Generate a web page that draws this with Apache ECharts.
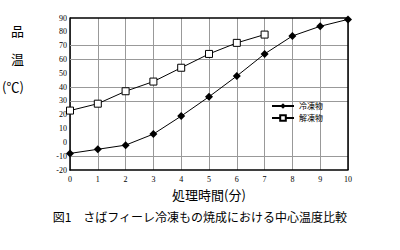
<!DOCTYPE html>
<html>
<head>
<meta charset="utf-8">
<script src="https://cdn.jsdelivr.net/npm/echarts@6/dist/echarts.min.js"></script>
<style>
html, body { margin: 0; padding: 0; background: #fff; }
#chart { width: 400px; height: 250px; }
</style>
</head>
<body>
<div id="chart"></div>
<script>
// 処理時間(分)
var minutes = ['0', '1', '2', '3', '4', '5', '6', '7', '8', '9', '10'];
// 冷凍物
var frozen = [-8, -5, -2, 6, 19, 33, 48, 64, 77, 84, 89];
// 解凍物
var thawed = [23, 28, 37, 44, 54, 64, 72, 78];
// 横の点線（原図で見えているもの）
var gridLinesY = [70, 60, 40, 30, -10];
var seriesNames = ['冷凍物', '解凍物'];

var chart = echarts.init(document.getElementById('chart'), null, { renderer: 'svg' });
var tickFont = { color: '#000', fontFamily: 'Liberation Serif', fontSize: 8 };
var jpFont = 'Noto Sans CJK JP';
// 点線の代わりに薄いグレーの実線（破線が描かれない環境のため）
var dotLine = { color: '#999', type: 'solid', width: 1 };

var option = {
    backgroundColor: '#fff',
    animation: false,
    grid: { left: 70, right: 52, top: 18, bottom: 80, show: false },
    legend: {
        data: seriesNames,
        orient: 'vertical',
        left: 266,
        top: 97,
        itemWidth: 22,
        itemHeight: 7,
        itemGap: 4,
        textStyle: { color: '#000', fontFamily: jpFont, fontSize: 8 }
    },
    xAxis: {
        type: 'category',
        data: minutes,
        boundaryGap: false,
        name: '処理時間(分)',
        nameLocation: 'middle',
        nameGap: 13,
        nameTextStyle: { color: '#000', fontFamily: jpFont, fontSize: 13 },
        axisLine: { onZero: false, lineStyle: { color: '#000', width: 1.5 } },
        axisTick: { show: false },
        axisLabel: Object.assign({ margin: 5 }, tickFont),
        splitLine: { show: true, interval: 0, lineStyle: dotLine }
    },
    yAxis: {
        type: 'value',
        min: -20,
        max: 90,
        interval: 10,
        axisLine: { show: true, lineStyle: { color: '#000', width: 1.5 } },
        axisTick: { show: false },
        axisLabel: Object.assign({ margin: 3 }, tickFont),
        splitLine: { show: false }
    },
    graphic: [
        // 枠の上と右
        { type: 'polyline', shape: { points: [[70, 18], [348, 18], [348, 170]] }, style: { fill: null, stroke: '#000', lineWidth: 1.5 }, z: 10 },
        { type: 'text', left: 11, top: 24, style: { text: '品', fill: '#000', font: '13px "Noto Sans CJK JP"' } },
        { type: 'text', left: 11, top: 52, style: { text: '温', fill: '#000', font: '13px "Noto Sans CJK JP"' } },
        { type: 'text', left: 2, top: 80, style: { text: '(℃)', fill: '#000', font: '13px "Noto Sans CJK JP"' } },
        { type: 'text', left: 'center', top: 210, style: { text: '図1　さばフィーレ冷凍もの焼成における中心温度比較', fill: '#000', font: '12px "Noto Sans CJK JP"' } }
    ],
    series: [
        {
            name: seriesNames[0],
            type: 'line',
            data: frozen,
            symbol: 'diamond',
            symbolSize: 8,
            itemStyle: { color: '#000' },
            lineStyle: { color: '#000', width: 1 },
            markLine: {
                silent: true,
                symbol: ['none', 'none'],
                label: { show: false },
                lineStyle: dotLine,
                data: gridLinesY.map(function (v) { return { yAxis: v }; })
            },
            z: 5
        },
        {
            name: seriesNames[1],
            type: 'line',
            data: thawed,
            symbol: 'rect',
            symbolSize: 7,
            itemStyle: { color: '#fff', borderColor: '#000', borderWidth: 1 },
            lineStyle: { color: '#000', width: 1 },
            z: 5
        }
    ]
};
chart.setOption(option);
</script>
</body>
</html>
